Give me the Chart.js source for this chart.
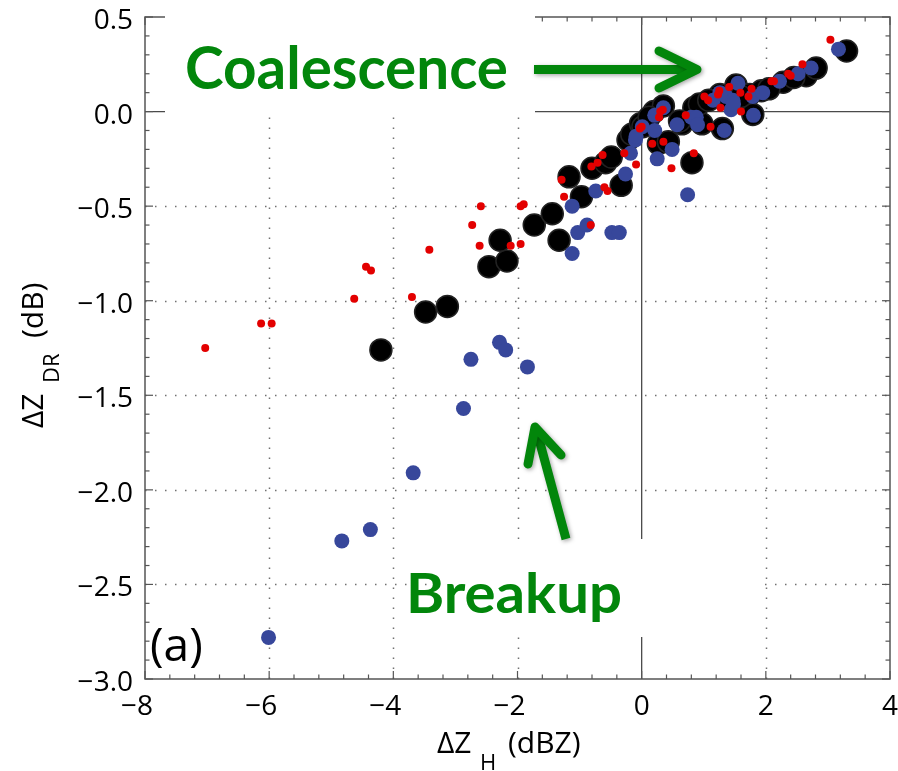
<!DOCTYPE html>
<html>
<head>
<meta charset="utf-8">
<script src="https://cdn.jsdelivr.net/npm/chart.js@4.4.0/dist/chart.umd.min.js"></script>
<style>
  html, body { margin: 0; padding: 0; background: #fff; }
  #wrap { width: 898px; height: 771px; }
</style>
</head>
<body>
<div id="wrap"><canvas id="chart" width="898" height="771"></canvas></div>
<script>
// axis ticks
var xTicks = [-8, -6, -4, -2, 0, 2, 4];
var yTicks = [-3, -2.5, -2, -1.5, -1, -0.5, 0, 0.5];
var xLabels = ['\u22128', '\u22126', '\u22124', '\u22122', '0', '2', '4'];
var yLabels = ['\u22123.0', '\u22122.5', '\u22122.0', '\u22121.5', '\u22121.0', '\u22120.5', '0.0', '0.5'];

// small red dots
var redX = [-7.03, -6.13, -5.96, -4.63, -4.44, -4.36, -3.70, -3.42,
  -2.59, -1.95, -1.90, -2.73, -2.61, -2.11, -1.95,
  -1.29, -1.25, -0.82, -0.81, -0.71, -0.63, -0.60, -0.55,
  -0.28, -0.09, -0.03, 0.00, 0.17, 0.35, 0.48, 0.84,
  0.28, 0.30, 0.34, 0.71, 1.11, 1.27, 1.60,
  1.01, 1.07, 1.23, 1.25, 1.41, 1.59, 1.72, 1.77,
  2.09, 2.13, 2.36, 2.40, 2.59, 3.04];
var redY = [-1.25, -1.12, -1.12, -0.99, -0.82, -0.84, -0.98, -0.73,
  -0.50, -0.50, -0.49, -0.60, -0.71, -0.71, -0.70,
  -0.36, -0.45, -0.60, -0.29, -0.27, -0.23, -0.40, -0.42,
  -0.22, -0.28, -0.09, -0.08, -0.17, -0.16, -0.30, -0.22,
  -0.03, 0.00, 0.01, -0.02, -0.08, 0.02, 0.00,
  0.08, 0.06, 0.09, 0.11, 0.13, 0.10, 0.08, 0.12,
  0.16, 0.16, 0.20, 0.19, 0.25, 0.38];

// medium blue dots
var blueX = [-6.01, -4.83, -4.37, -3.68, -2.87, -2.75, -2.29, -2.19, -1.84, -1.12,
  -1.03, -0.88, -0.48, -0.36, -1.12, -0.74, -0.26, -0.18, -0.10, 0.01,
  -0.09, 0.21, 0.25, 0.49, 0.74, 0.35, 0.21, 0.57, 0.80, 0.88,
  0.90, 1.15, 1.26, 1.36, 1.47, 1.44, 1.55, 1.33, 1.79, 1.95,
  1.80, 2.22, 2.52, 2.73, 3.17, 1.48];
var blueY = [-2.78, -2.27, -2.21, -1.91, -1.57, -1.31, -1.22, -1.26, -1.35, -0.75,
  -0.64, -0.60, -0.64, -0.64, -0.50, -0.42, -0.33, -0.22, -0.15, -0.08,
  -0.13, -0.10, -0.25, -0.20, -0.44, 0.02, -0.02, -0.07, -0.03, -0.03,
  -0.07, 0.06, 0.10, 0.08, 0.06, 0.01, 0.15, -0.10, 0.08, 0.10,
  -0.02, 0.16, 0.20, 0.23, 0.33, 0.04];

// large black dots
var blackX = [-4.20, -3.48, -3.13, -2.46, -2.17, -2.28, -1.73, -1.44, -1.33, -1.17,
  -0.97, -0.80, -0.58, -0.49, -0.33, -0.22, -0.16, -0.02, 0.02, 0.20,
  0.35, 0.27, 0.43, 0.81, 0.84, 0.65, 0.61, 0.97, 0.93, 1.30,
  1.26, 1.52, 1.74, 1.93, 1.79, 2.28, 2.65, 2.81, 3.30,
  1.08, 1.42, 2.05, 2.45, 0.12, 1.60];
var blackY = [-1.26, -1.06, -1.03, -0.82, -0.79, -0.68, -0.60, -0.54, -0.68, -0.345,
  -0.45, -0.30, -0.27, -0.24, -0.39, -0.15, -0.12, -0.065, -0.08, 0.00,
  0.03, -0.17, -0.16, -0.27, 0.02, -0.065, -0.05, -0.065, 0.04, -0.09,
  0.09, 0.14, 0.09, 0.11, -0.015, 0.155, 0.19, 0.23, 0.32,
  0.06, 0.07, 0.12, 0.18, -0.03, 0.08];

function pts(xs, ys) {
  return xs.map(function (x, i) { return { x: x, y: ys[i] }; });
}

var GREEN = '#02860b';
var FONT = "'Open Sans', 'DejaVu Sans', sans-serif";

function line(c, x1, y1, x2, y2) {
  c.beginPath(); c.moveTo(x1, y1); c.lineTo(x2, y2); c.stroke();
}

// text fitted to a cap height and a width
function fitText(c, txt, x, base, capH, width) {
  var size = capH / 0.72;
  c.font = 'bold ' + size + "px Lato, 'Open Sans', sans-serif";
  var w = c.measureText(txt).width;
  c.save();
  c.translate(x, base);
  c.scale(width / w, 1);
  c.fillStyle = GREEN;
  c.textAlign = 'left';
  c.textBaseline = 'alphabetic';
  c.fillText(txt, 0, 0);
  c.restore();
}

var framePlugin = {
  id: 'frame',
  beforeDatasetsDraw: function (chart) {
    var c = chart.ctx, a = chart.chartArea;
    var xs = chart.scales.x, ys = chart.scales.y;
    c.save();
    // dotted grid
    c.strokeStyle = '#707070';
    c.lineWidth = 1.5;
    c.setLineDash([1.5, 8.5]);
    xTicks.forEach(function (v) {
      if (v === 0 || v === xTicks[0] || v === xTicks[xTicks.length - 1]) return;
      var p = Math.round(xs.getPixelForValue(v)) + 0.5;
      line(c, p, a.bottom, p, a.top);
    });
    yTicks.forEach(function (v) {
      if (v === 0 || v === yTicks[0] || v === yTicks[yTicks.length - 1]) return;
      var p = Math.round(ys.getPixelForValue(v)) + 0.5;
      line(c, a.left, p, a.right, p);
    });
    c.setLineDash([]);
    // zero lines
    c.strokeStyle = '#4a4a4a';
    c.lineWidth = 1.3;
    var x0 = xs.getPixelForValue(0), y0 = ys.getPixelForValue(0);
    line(c, x0, a.top, x0, a.bottom);
    line(c, a.left, y0, a.right, y0);
    // frame and inward ticks
    c.strokeStyle = '#555';
    c.lineWidth = 1.5;
    c.strokeRect(a.left, a.top, a.right - a.left, a.bottom - a.top);
    c.lineWidth = 1.2;
    var i, v, p, L;
    for (i = 0; i <= 30; i++) {
      v = xTicks[0] + i * 0.4;
      p = xs.getPixelForValue(v);
      L = (i % 5 === 0) ? 8 : 4.5;
      line(c, p, a.bottom, p, a.bottom - L);
      line(c, p, a.top, p, a.top + L);
    }
    for (i = 0; i <= 35; i++) {
      v = yTicks[0] + i * 0.1;
      p = ys.getPixelForValue(v);
      L = (i % 5 === 0) ? 8 : 4.5;
      line(c, a.left, p, a.left + L, p);
      line(c, a.right, p, a.right - L, p);
    }
    // tick labels
    c.fillStyle = '#000';
    c.font = '28px ' + FONT;
    c.textBaseline = 'alphabetic';
    c.textAlign = 'right';
    yTicks.forEach(function (v, k) {
      c.fillText(yLabels[k], a.left - 12, ys.getPixelForValue(v) + 12);
    });
    c.textAlign = 'left';
    xTicks.forEach(function (v, k) {
      var lab = xLabels[k];
      var num = lab.replace('\u2212', '');
      var numW = c.measureText(num).width;
      var fullW = c.measureText(lab).width;
      var px = xs.getPixelForValue(v);
      c.fillText(lab, px + numW / 2 - fullW, a.bottom + 36);
    });
    c.restore();
  },
  afterDraw: function (chart) {
    var c = chart.ctx;
    c.save();
    // white backgrounds of the two text boxes
    c.fillStyle = '#fff';
    c.fillRect(165, 0, 370, 114);
    c.fillRect(445, 539, 314, 98);

    // axis titles
    c.fillStyle = '#000';
    c.textBaseline = 'alphabetic';
    c.textAlign = 'left';
    var base = 753;
    c.font = '30px ' + FONT;
    c.fillText('\u0394Z', 437, base);
    c.font = '22px ' + FONT;
    c.fillText('H', 480, base + 17);
    c.font = '30px ' + FONT;
    c.fillText('(dBZ)', 508, base);

    c.save();
    c.translate(43, 428);
    c.rotate(-Math.PI / 2);
    c.font = '30px ' + FONT;
    c.fillText('\u0394Z', 0, 0);
    c.font = '22px ' + FONT;
    c.fillText('DR', 45, 16);
    c.font = '30px ' + FONT;
    c.fillText('(dB)', 90, 0);
    c.restore();

    // panel letter
    c.font = '46px ' + FONT;
    c.fillText('(a)', 150, 661);

    // annotations
    fitText(c, 'Coalescence', 185, 89, 42, 323);
    fitText(c, 'Breakup', 406, 613, 40, 216);

    c.shadowColor = 'rgba(0,0,0,0.35)';
    c.shadowBlur = 4;
    c.shadowOffsetX = 1.5;
    c.shadowOffsetY = 1.5;
    c.strokeStyle = GREEN;
    c.lineWidth = 9;
    c.lineCap = 'butt';
    line(c, 534, 69.5, 692, 69.5);
    c.lineCap = 'round';
    c.lineJoin = 'round';
    c.beginPath(); c.moveTo(659, 51); c.lineTo(697, 69.5); c.lineTo(659, 88); c.stroke();
    c.lineCap = 'butt';
    line(c, 566, 539, 537, 432);
    c.lineCap = 'round';
    c.beginPath(); c.moveTo(528, 464); c.lineTo(535, 427); c.lineTo(561, 455); c.stroke();
    c.restore();
  }
};

var ctx = document.getElementById('chart').getContext('2d');
new Chart(ctx, {
  type: 'scatter',
  data: {
    datasets: [
      { label: 'small', data: pts(redX, redY), backgroundColor: '#e30000', borderWidth: 0, pointRadius: 4 },
      { label: 'medium', data: pts(blueX, blueY), backgroundColor: '#37479b', borderWidth: 0, pointRadius: 7.5 },
      { label: 'large', data: pts(blackX, blackY), backgroundColor: '#000', borderColor: '#222', borderWidth: 1.5, pointRadius: 11 }
    ]
  },
  options: {
    responsive: false,
    animation: false,
    events: [],
    layout: { autoPadding: false, padding: { top: 17, right: 8, left: 0, bottom: 0 } },
    plugins: { legend: { display: false }, tooltip: { enabled: false } },
    scales: {
      x: {
        type: 'linear', min: -8, max: 4,
        afterBuildTicks: function (s) { s.ticks = xTicks.map(function (v) { return { value: v }; }); },
        afterFit: function (s) { s.height = 92; },
        grid: { display: false, drawTicks: false },
        border: { display: false },
        ticks: { display: false }
      },
      y: {
        type: 'linear', min: -3, max: 0.5,
        afterBuildTicks: function (s) { s.ticks = yTicks.map(function (v) { return { value: v }; }); },
        afterFit: function (s) { s.width = 145; },
        grid: { display: false, drawTicks: false },
        border: { display: false },
        ticks: { display: false }
      }
    }
  },
  plugins: [framePlugin]
});
</script>
</body>
</html>
